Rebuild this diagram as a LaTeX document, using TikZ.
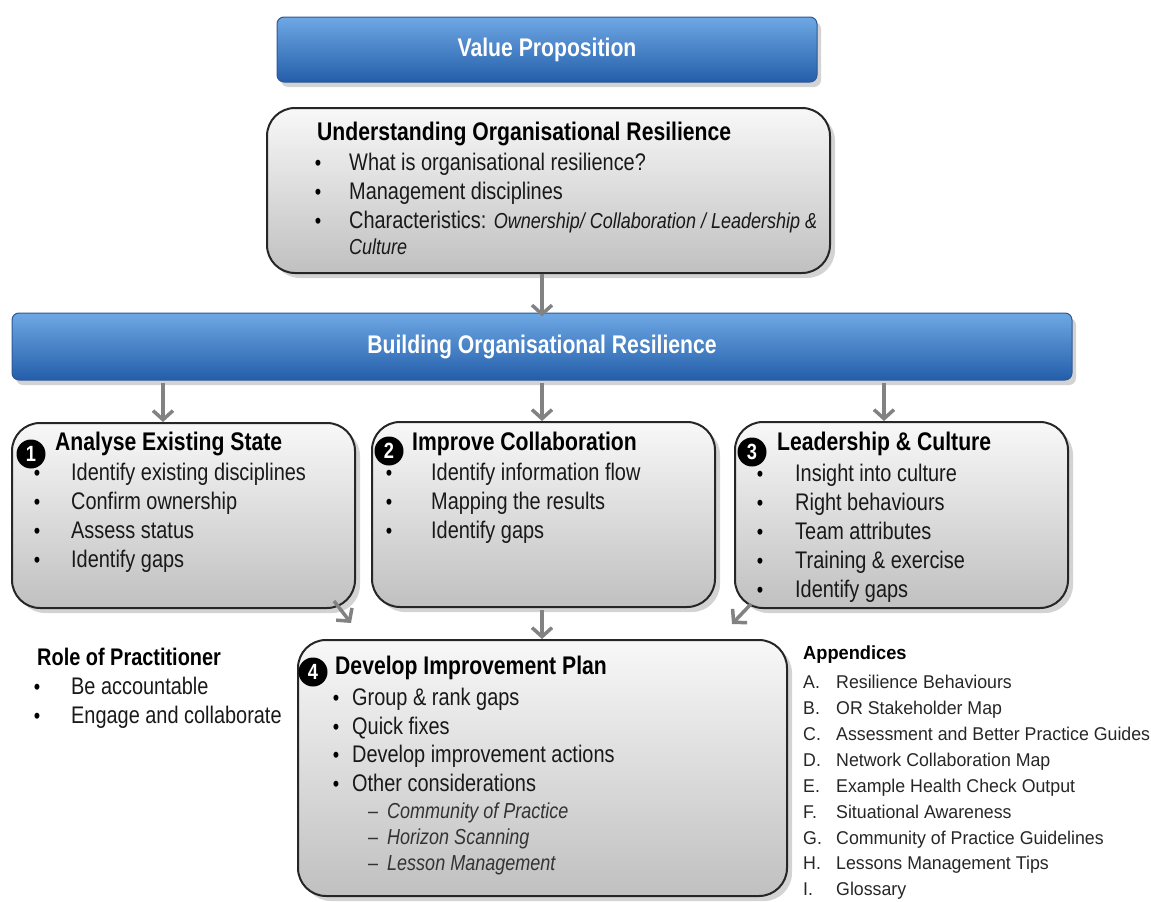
\documentclass[tikz,border=0pt]{standalone}
\usepackage{fontspec}
\setmainfont{Liberation Sans}[FakeStretch=0.83]
\newfontfamily\widefont{Liberation Sans}[FakeStretch=0.96]
\usetikzlibrary{shadows,arrows.meta}
\definecolor{bluetop}{RGB}{110,168,228}
\definecolor{bluemid}{RGB}{62,128,206}
\definecolor{bluebot}{RGB}{36,94,170}
\definecolor{blueline}{RGB}{44,88,150}
\definecolor{greytop}{RGB}{248,248,248}
\definecolor{greybot}{RGB}{192,192,192}
\definecolor{arrowgrey}{RGB}{130,130,130}
\tikzset{
  bluebox/.style={rounded corners=7pt, draw=blueline, line width=1pt,
    top color=bluetop, middle color=bluemid, bottom color=bluebot,
    drop shadow={opacity=0.35, shadow xshift=4pt, shadow yshift=-5pt},
    text=white, font=\fontsize{25.5}{29}\selectfont\bfseries},
  greybox/.style={rounded corners=28pt, draw=black!85, line width=2pt,
    top color=greytop, bottom color=greybot,
    drop shadow={opacity=0.35, shadow xshift=5pt, shadow yshift=-5pt}},
  badge/.style={circle, fill=black, text=white, inner sep=0pt, minimum size=29pt,
    font=\fontsize{22}{26}\selectfont\bfseries},
  head/.style={anchor=mid west, inner sep=0pt, font=\fontsize{25.5}{29}\selectfont\bfseries},
  item/.style={anchor=mid west, inner sep=0pt, text=black!90, font=\fontsize{24}{28}\selectfont},
  subitem/.style={anchor=mid west, inner sep=0pt, text=black!80, font=\fontsize{21.7}{25}\selectfont\itshape},
  dot/.style={anchor=mid, inner sep=0pt, font=\fontsize{22}{26}\selectfont},
  apphead/.style={anchor=mid west, inner sep=0pt, font=\widefont\fontsize{19}{22}\selectfont\bfseries},
  appitem/.style={anchor=mid west, inner sep=0pt, text=black!85, font=\widefont\fontsize{18.5}{22}\selectfont},
  arr/.style={draw=arrowgrey, line width=3.5pt, -{Straight Barb[length=9pt,width=20pt]}}
}
\begin{document}
\begin{tikzpicture}[x=1pt,y=1pt]
\useasboundingbox (0,0) rectangle (1151,-902);

\node[bluebox, minimum width=540pt, minimum height=65pt] at (547,-49.5) (value) {Value Proposition};

\node[greybox, minimum width=563pt, minimum height=165pt] at (548.5,-190.5) (under) {};
\node[head] at (317,-138) (underhd) {Understanding Organisational Resilience};
\foreach \t [count=\i] in {What is organisational resilience?, Management disciplines,
    {Characteristics: {\fontsize{21.7}{25}\selectfont\itshape Ownership/ Collaboration / Leadership \&}}}{
  \node[item] at (349,{-168-29*(\i-1)}) (u\i) {\t};
  \node[dot] at (318,{-168-29*(\i-1)}) (ud\i) {\textbullet};
}
\node[subitem, text=black!90] at (349,-252) (u4) {Culture};

\node[bluebox, minimum width=1060pt, minimum height=67pt] at (542,-346.5) (build) {Building Organisational Resilience};

\node[greybox, minimum width=343pt, minimum height=185pt] at (183.5,-515.5) (box1) {};
\node[greybox, minimum width=343pt, minimum height=185pt] at (543.5,-514.5) (box2) {};
\node[greybox, minimum width=333pt, minimum height=186pt] at (901.5,-515) (box3) {};
\node[greybox, minimum width=489pt, minimum height=256pt] at (542.5,-768) (box4) {};

\node[badge] at (31,-454) (n1) {1};
\node[head] at (55,-448) (hd1) {Analyse Existing State};
\foreach \t [count=\i] in {Identify existing disciplines, Confirm ownership, Assess status, Identify gaps}{
  \node[item] at (71,{-478-29*(\i-1)}) (a\i) {\t};
  \node[dot] at (37,{-478-29*(\i-1)}) (ad\i) {\textbullet};
}

\node[badge] at (389,-451) (n2) {2};
\node[head] at (412,-448) (hd2) {Improve Collaboration};
\foreach \t [count=\i] in {Identify information flow, Mapping the results, Identify gaps}{
  \node[item] at (431,{-478-29*(\i-1)}) (b\i) {\t};
  \node[dot] at (389,{-478-29*(\i-1)}) (bd\i) {\textbullet};
}

\node[badge] at (752,-452) (n3) {3};
\node[head] at (777,-448) (hd3) {Leadership \& Culture};
\foreach \t [count=\i] in {Insight into culture, Right behaviours, Team attributes, Training \& exercise, Identify gaps}{
  \node[item] at (795,{-479-29*(\i-1)}) (c\i) {\t};
  \node[dot] at (760,{-479-29*(\i-1)}) (cd\i) {\textbullet};
}

\node[badge] at (313,-672) (n4) {4};
\node[head] at (335,-672) (hd4) {Develop Improvement Plan};
\foreach \t [count=\i] in {Group \& rank gaps, Quick fixes, Develop improvement actions, Other considerations}{
  \node[item] at (352,{-703-28.5*(\i-1)}) (d\i) {\t};
  \node[dot] at (336,{-703-28.5*(\i-1)}) (dd\i) {\textbullet};
}
\foreach \t [count=\i] in {Community of Practice, Horizon Scanning, Lesson Management}{
  \node[subitem] at (387,{-816-26*(\i-1)}) (s\i) {\t};
  \node[subitem] at (368,{-816-26*(\i-1)}) (sd\i) {\upshape--};
}

\node[head, font=\fontsize{24}{28}\selectfont\bfseries] at (37,-663) (role) {Role of Practitioner};
\foreach \t [count=\i] in {Be accountable, Engage and collaborate}{
  \node[item] at (71,{-692-29*(\i-1)}) (r\i) {\t};
  \node[dot] at (37,{-692-29*(\i-1)}) (rd\i) {\textbullet};
}

\node[apphead] at (803,-657) (apx) {Appendices};
\foreach \l/\t [count=\i] in {A/Resilience Behaviours, B/OR Stakeholder Map,
    C/Assessment and Better Practice Guides, D/Network Collaboration Map,
    E/Example Health Check Output, F/Situational Awareness,
    G/Community of Practice Guidelines, H/Lessons Management Tips, I/Glossary}{
  \node[appitem] at (836,{-686-25.9*(\i-1)}) (p\i) {\t};
  \node[appitem] at (803,{-686-25.9*(\i-1)}) (pl\i) {\l.};
}

\coordinate (xa) at (163,0);
\coordinate (xb) at (542,0);
\coordinate (xc) at (884,0);
\draw[arr] (under.south -| xb) -- ([yshift=-4pt]build.north -| xb);
\draw[arr] ([yshift=-2pt]build.south -| xa) -- (box1.north -| xa);
\draw[arr] ([yshift=-2pt]build.south -| xb) -- (box2.north -| xb);
\draw[arr] ([yshift=-2pt]build.south -| xc) -- (box3.north -| xc);
\draw[arr] ([yshift=-2pt]box2.south -| xb) -- (box4.north -| xb);
\draw[arr] ([shift={(-22pt,8pt)}]box1.south east) -- ([shift={(54pt,16pt)}]box4.north west);
\draw[arr] ([shift={(17pt,5pt)}]box3.south west) -- ([shift={(-56pt,15pt)}]box4.north east);
\end{tikzpicture}
\end{document}
